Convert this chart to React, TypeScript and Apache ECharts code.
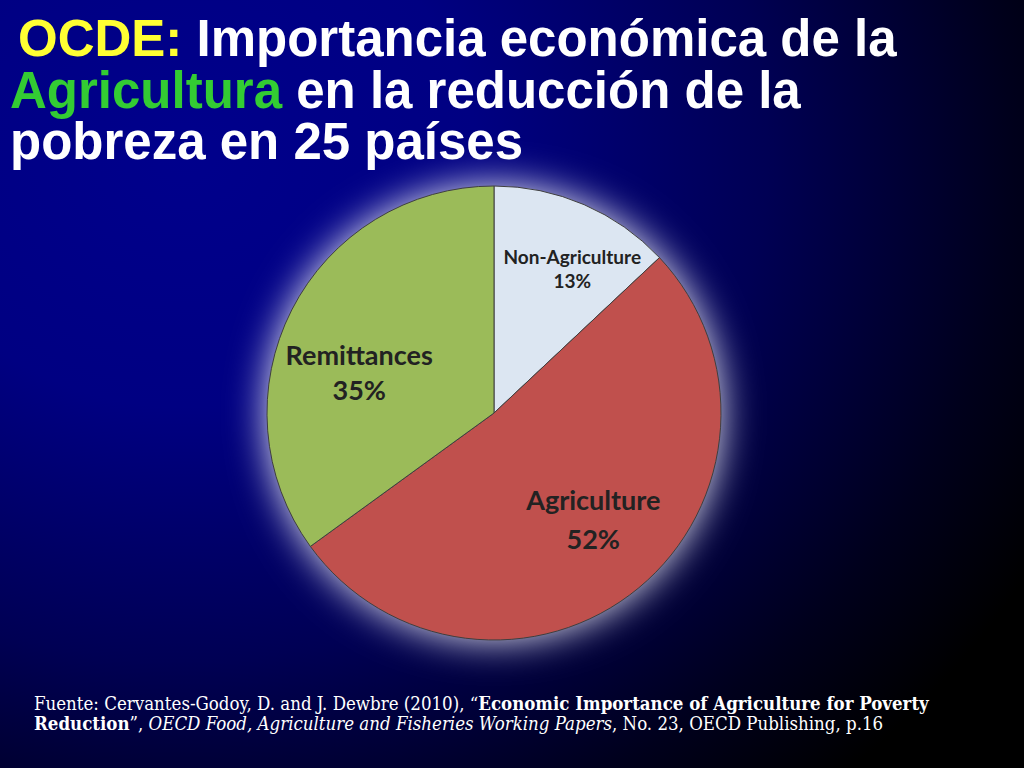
import { useEffect, useRef } from "react";
import * as echarts from "echarts";

// slice order runs clockwise from 12 o'clock
const sliceNames = ["Non-Agriculture", "Agriculture", "Remittances"];
const sliceValues = [13, 52, 35];
const sliceColors = ["#dce6f2", "#c0504d", "#9bbb59"];

const titleLines = [
  "{y|OCDE:} Importancia económica de la",
  "{g|Agricultura} en la reducción de la",
  "pobreza en 25 países",
];

const footerLines = [
  "Fuente: Cervantes-Godoy, D. and J. Dewbre (2010), “{b|Economic Importance of Agriculture for Poverty}",
  "{b|Reduction}”, {i|OECD Food, Agriculture and Fisheries Working Papers}, No. 23, OECD Publishing, p.16",
];

export default function App() {
  const chartRef = useRef<HTMLDivElement>(null);

  useEffect(() => {
    document.body.style.margin = "0";
    if (!chartRef.current) return;
    const chart = echarts.init(chartRef.current, undefined, { renderer: "svg" });

    // label nudges so the texts sit where the slide has them
    const labelShift = [
      { dx: 32, dy: -38 },
      { dx: 25, dy: 16 },
      { dx: -31, dy: 12 },
    ];

    const pieData = sliceNames.map((name, i) => ({
      name,
      value: sliceValues[i],
      itemStyle: { color: sliceColors[i] },
      label:
        i === 0
          ? { fontSize: 19, lineHeight: 24 }
          : { fontSize: 27, lineHeight: i === 1 ? 39 : 35 },
    }));

    const titleFont = { fontFamily: "Liberation Sans", fontWeight: "bold", fontSize: 51, lineHeight: 50 };
    const footFont = { fontFamily: "'DejaVu Serif Condensed', 'Liberation Serif'", fontSize: 18.5, lineHeight: 19 };

    chart.setOption({
      animation: false,
      backgroundColor: "transparent",
      graphic: [
        ...titleLines.map((text, i) => ({
          type: "text",
          x: i === 0 ? 18 : 10,
          y: [38.5, 90, 141.5][i],
          z: 10,
          style: {
            text,
            fill: "#ffffff",
            ...titleFont,
            verticalAlign: "middle",
            rich: {
              y: { fill: "#ffff33", ...titleFont },
              g: { fill: "#33cc33", ...titleFont },
            },
          },
        })),
        ...footerLines.map((text, i) => ({
          type: "text",
          x: 34,
          y: [703, 723][i],
          z: 10,
          style: {
            text,
            fill: "#ffffff",
            ...footFont,
            verticalAlign: "middle",
            rich: {
              b: { fill: "#ffffff", ...footFont, fontWeight: "bold" },
              i: { fill: "#ffffff", ...footFont, fontStyle: "italic" },
            },
          },
        })),
      ],
      series: [
        {
          // white halo behind the pie
          type: "pie",
          silent: true,
          center: [494, 413],
          radius: 225,
          z: 1,
          label: { show: false },
          labelLine: { show: false },
          itemStyle: {
            color: "#ffffff",
            shadowBlur: 40,
            shadowColor: "#ffffff",
          },
          data: [{ name: "halo", value: 1 }],
        },
        {
          type: "pie",
          center: [494, 413],
          radius: 227,
          startAngle: 90,
          clockwise: true,
          z: 2,
          itemStyle: { borderColor: "#3f3f3f", borderWidth: 1 },
          label: {
            show: true,
            position: "inside",
            formatter: "{b}\n{c}%",
            color: "#222222",
            fontFamily: "Lato",
            fontWeight: "bold",
          },
          labelLayout: (params: { dataIndex: number }) => labelShift[params.dataIndex],
          labelLine: { show: false },
          emphasis: { disabled: true },
          data: pieData,
        },
      ],
    });

    return () => {
      chart.dispose();
    };
  }, []);

  return (
    <div
      ref={chartRef}
      style={{
        width: 1024,
        height: 768,
        background:
          "radial-gradient(ellipse 95% 110% at 18% 20%, #00008c 0%, #000082 30%, #000054 60%, #00001c 85%, #000000 100%)",
      }}
    />
  );
}
